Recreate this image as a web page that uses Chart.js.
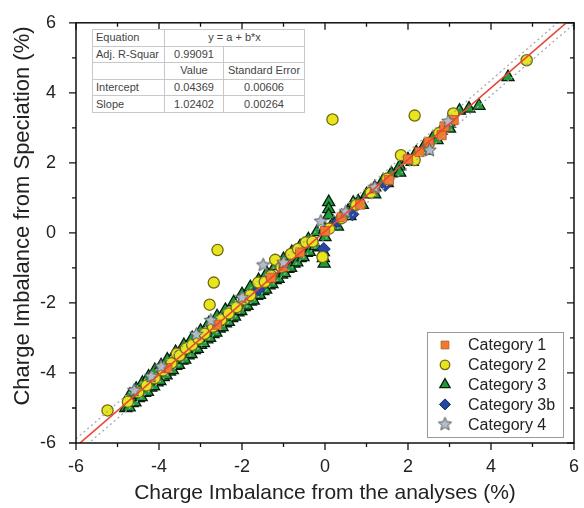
<!DOCTYPE html>
<html><head><meta charset="utf-8">
<script src="https://cdn.jsdelivr.net/npm/chart.js@4/dist/chart.umd.min.js"></script>
<style>
html,body{margin:0;padding:0;background:#fff;}
#wrap{position:relative;width:584px;height:508px;overflow:hidden;}
#c{position:absolute;left:0;top:0;}
table.fit{position:absolute;left:92px;top:29px;border-collapse:collapse;table-layout:fixed;
  font-family:"Liberation Sans",Arial,sans-serif;font-size:11px;color:#444;background:#fff;border:1px solid #999;}
table.fit td{border:1px solid #c8c8c8;height:15.6px;padding:0 0 0 3px;white-space:nowrap;overflow:hidden;line-height:15px;}
table.fit td.c{text-align:center;padding:0;}
</style></head>
<body>
<div id="wrap">
<canvas id="c" width="584" height="508"></canvas>
<table class="fit" id="fit"><colgroup><col style="width:72px"><col style="width:59px"><col style="width:81px"></colgroup><tbody></tbody></table>
</div>
<script>
// ---- axis ticks ----
const majorTicks = [-6, -4, -2, 0, 2, 4, 6];
const minorTicks = [-5, -3, -1, 1, 3, 5];
const xTitle = 'Charge Imbalance from the analyses (%)';
const yTitle = 'Charge Imbalance from Speciation (%)';

// ---- fit table ----
const tableRows = [
  ["Equation", "y = a + b*x"],
  ["Adj. R-Squar", "0.99091", ""],
  ["", "Value", "Standard Error"],
  ["Intercept", "0.04369", "0.00606"],
  ["Slope", "1.02402", "0.00264"]
];

// ---- lines ----
const fitLine   = [[-6, -6.10], [6, 6.19]];
const upperBand = [[-6, -5.88], [6, 6.41]];
const lowerBand = [[-6, -6.32], [6, 5.97]];

// ---- series [x, y] ----
const cat1 = [[-3.8,-3.86],[-2.6,-2.62],[-1.3,-1.28],[-1.0,-0.96],
  [-0.6,-0.56],[0.0,0.05],[0.4,0.45],[0.85,0.81],[1.2,1.27],[1.54,1.51],[2.0,2.1],[2.28,2.31],[2.5,2.6],
  [2.81,2.79],[2.88,3.04],[3.1,3.22]];

const cat2 = [[-5.24,-5.07],[-4.75,-4.82],[-4.5,-4.55],[-4.3,-4.36],[-4.1,-4.15],[-3.9,-3.93],[-3.7,-3.72],
  [-3.57,-3.45],[-3.5,-3.5],[-3.35,-3.3],[-3.2,-3.2],[-3.05,-3.02],[-2.9,-2.88],[-2.7,-2.68],[-2.5,-2.48],
  [-2.32,-2.3],[-2.13,-2.12],[-1.95,-1.9],[-1.8,-1.78],[-1.61,-1.42],[-1.45,-1.4],[-1.3,-1.22],[-1.2,-0.77],
  [-1.05,-0.98],[-0.82,-0.6],[-0.65,-0.46],[-0.46,-0.27],[-0.3,-0.25],[-0.06,-0.69],[0.1,0.12],[0.4,0.42],
  [0.75,0.8],[1.1,1.15],[1.5,1.55],[1.83,2.22],[2.16,2.08],[2.5,2.55],[2.75,2.85],[3.09,3.41],[4.86,4.93],
  [0.18,3.24],[2.16,3.35],[-2.59,-0.49],[-2.68,-1.42],[-2.78,-2.05]];

const cat3 = [
  [-4.8,-5.0],[-4.65,-4.86],[-4.5,-4.72],[-4.35,-4.57],[-4.2,-4.42],[-4.05,-4.27],[-3.9,-4.12],[-3.75,-3.96],
  [-3.6,-3.8],[-3.45,-3.65],[-3.3,-3.5],[-3.15,-3.35],[-3.0,-3.2],[-2.85,-3.04],[-2.7,-2.89],[-2.55,-2.73],
  [-2.4,-2.58],[-2.25,-2.43],[-2.1,-2.27],[-1.95,-2.12],[-1.8,-1.96],[-1.65,-1.8],[-1.5,-1.66],[-1.35,-1.5],
  [-1.2,-1.35],[-1.05,-1.19],[-0.9,-1.03],[-0.75,-0.88],[-0.6,-0.72],[-0.45,-0.57],[-0.3,-0.41],
  [-4.72,-4.98],[-4.58,-4.84],[-4.43,-4.69],[-4.28,-4.54],[-4.13,-4.38],[-3.98,-4.23],[-3.83,-4.07],
  [-3.68,-3.92],[-3.53,-3.77],[-3.38,-3.62],[-3.23,-3.46],[-3.08,-3.31],[-2.93,-3.15],[-2.78,-3.0],
  [-2.63,-2.85],[-2.48,-2.69],[-2.33,-2.54],[-2.18,-2.39],[-2.03,-2.23],[-1.88,-2.08],[-1.73,-1.93],
  [-1.58,-1.77],[-1.43,-1.62],[-1.28,-1.46],[-1.13,-1.31],[-0.98,-1.15],[-0.83,-1.0],[-0.68,-0.84],
  [-0.53,-0.69],[-0.38,-0.54],[-0.23,-0.38],
  [-4.7,-4.62],[-4.55,-4.45],[-4.4,-4.28],[-4.25,-4.1],[-4.1,-3.92],[-3.95,-3.78],[-3.8,-3.62],[-3.6,-3.4],
  [-3.4,-3.2],[-3.2,-3.0],[-3.0,-2.8],[-2.8,-2.58],[-2.6,-2.38],[-2.4,-2.2],[-2.2,-1.98],[-2.0,-1.75],
  [-1.8,-1.55],[-1.6,-1.35],[-1.4,-1.15],[-1.2,-0.95],[-1.0,-0.75],[-0.8,-0.55],[-0.6,-0.38],[-0.4,-0.18],
  [-0.2,0.02],[0.0,0.1],[0.2,0.3],[0.4,0.48],[0.55,0.62],[0.68,0.86],[0.8,0.9],[1.0,1.1],[1.2,1.3],[1.4,1.5],
  [1.6,1.7],[1.8,1.9],[2.0,2.1],[2.2,2.3],[2.4,2.5],[2.6,2.72],[2.8,2.92],[3.0,3.12],[3.24,3.49],[3.47,3.55],
  [3.71,3.63],[4.41,4.45],
  [0.0,-0.12],[0.3,0.18],[0.6,0.48],[0.9,0.8],[1.2,1.1],[1.5,1.42],[1.8,1.72],[2.1,2.03],[2.4,2.35],
  [2.7,2.65],[3.0,2.98],
  [0.09,0.88],[0.09,0.68],[0.09,0.5],[-0.04,-0.55],[-0.04,-0.72],[-0.02,-0.88]];

const cat3b = [[-1.6,-1.62],[-0.03,-0.46],[0.3,0.32],[0.66,0.53],[1.45,1.37]];

const cat4 = [[-4.6,-4.5],[-4.19,-4.1],[-3.95,-3.82],[-3.1,-2.9],[-2.75,-2.5],[-2.0,-1.85],[-1.49,-0.92],
  [-1.0,-0.85],[-0.1,0.33],[0.5,0.6],[1.2,1.3],[2.52,2.36],[2.97,3.18]];

// ---- build table ----
const tb = document.querySelector('#fit tbody');
tableRows.forEach(r => {
  const tr = document.createElement('tr');
  r.forEach((v, i) => {
    const td = document.createElement('td');
    td.textContent = v;
    if (i > 0) td.className = 'c';
    if (r.length === 2 && i === 1) td.colSpan = 2;
    tr.appendChild(td);
  });
  tb.appendChild(tr);
});

// ---- star marker ----
function makeStar(R, r, fill, stroke) {
  const s = Math.ceil(R * 2 + 3);
  const cv = document.createElement('canvas');
  cv.width = s; cv.height = s;
  const g = cv.getContext('2d');
  const c = s / 2;
  g.beginPath();
  for (let i = 0; i < 10; i++) {
    const a = -Math.PI / 2 + i * Math.PI / 5;
    const rr = i % 2 === 0 ? R : r;
    const px = c + rr * Math.cos(a), py = c + rr * Math.sin(a);
    i === 0 ? g.moveTo(px, py) : g.lineTo(px, py);
  }
  g.closePath();
  g.fillStyle = fill; g.fill();
  g.lineWidth = 1; g.strokeStyle = stroke; g.stroke();
  return cv;
}
const starImg = makeStar(7, 3.2, '#b4bcc6', '#505860');

const pts = a => a.map(([x, y]) => ({x, y}));

const series = [
  {label: 'Category 1', data: cat1, pointStyle: 'rect', radius: 6.5, bg: '#f07a30', bc: '#b8561c', bw: 0.8, order: 4},
  {label: 'Category 2', data: cat2, pointStyle: 'circle', radius: 5.6, bg: '#e8e41e', bc: '#6e6a14', bw: 1.3, order: 6},
  {label: 'Category 3', data: cat3, pointStyle: 'triangle', radius: 7, bg: '#1f9d3d', bc: '#06200b', bw: 1.3, order: 7},
  {label: 'Category 3b', data: cat3b, pointStyle: 'rectRot', radius: 6.5, bg: '#2546a2', bc: '#132a60', bw: 1, order: 6.5},
  {label: 'Category 4', data: cat4, pointStyle: starImg, radius: 7, bg: '#b4bcc6', bc: '#505860', bw: 1, order: 2}
];

const datasets = series.map(s => ({
  label: s.label, data: pts(s.data), pointStyle: s.pointStyle, pointRadius: s.radius,
  pointBackgroundColor: s.bg, pointBorderColor: s.bc, pointBorderWidth: s.bw, order: s.order
}));
datasets.push({label: 'fit', type: 'line', data: pts(fitLine), borderColor: '#e8473b', borderWidth: 1.6, pointRadius: 0, order: 0});
datasets.push({label: 'upper', type: 'line', data: pts(upperBand), borderColor: '#a8a8a8', borderDash: [2, 3], borderWidth: 1.3, pointRadius: 0, order: 1});
datasets.push({label: 'lower', type: 'line', data: pts(lowerBand), borderColor: '#a8a8a8', borderDash: [2, 3], borderWidth: 1.3, pointRadius: 0, order: 1});

const FONT = '"Liberation Sans", Arial, sans-serif';

const frame = {
  id: 'frame',
  afterDraw(chart) {
    const {ctx, chartArea: a, scales: {x, y}} = chart;
    ctx.save();
    ctx.strokeStyle = '#111';
    ctx.lineWidth = 1.5;
    ctx.strokeRect(a.left, a.top, a.right - a.left, a.bottom - a.top);
    ctx.lineWidth = 1.3;
    ctx.beginPath();
    const tick = (v, len) => {
      const px = x.getPixelForValue(v), py = y.getPixelForValue(v);
      ctx.moveTo(px, a.bottom); ctx.lineTo(px, a.bottom + len);
      ctx.moveTo(px, a.top); ctx.lineTo(px, a.top + len);
      ctx.moveTo(a.left, py); ctx.lineTo(a.left - len, py);
      ctx.moveTo(a.right, py); ctx.lineTo(a.right - len, py);
    };
    majorTicks.forEach(v => tick(v, 7));
    minorTicks.forEach(v => tick(v, 4));
    ctx.stroke();

    // y axis title
    ctx.save();
    ctx.translate(23, 216);
    ctx.rotate(-Math.PI / 2);
    ctx.font = '22px ' + FONT;
    ctx.fillStyle = '#222';
    ctx.textAlign = 'center';
    ctx.textBaseline = 'middle';
    ctx.fillText(yTitle, 0, 0);
    ctx.restore();

    // legend
    const bx = a.right - 147, by = a.bottom - 111, bw = 136, bh = 105;
    ctx.fillStyle = '#fff';
    ctx.fillRect(bx, by, bw, bh);
    ctx.strokeStyle = '#9a9a9a';
    ctx.lineWidth = 1;
    ctx.strokeRect(bx + 0.5, by + 0.5, bw, bh);
    ctx.font = '16px ' + FONT;
    ctx.textBaseline = 'middle';
    ctx.textAlign = 'left';
    series.forEach((s, i) => {
      const cy = by + 13 + i * 19.8;
      const cx = bx + 18;
      ctx.fillStyle = s.bg; ctx.strokeStyle = s.bc; ctx.lineWidth = s.bw;
      Chart.helpers.drawPoint(ctx, {pointStyle: s.pointStyle, radius: s.radius * 0.85, rotation: 0, borderWidth: s.bw}, cx, cy);
      ctx.fillStyle = '#222';
      ctx.fillText(s.label, bx + 41, cy + 1);
    });
    ctx.restore();
  }
};

const tickFont = {family: FONT, size: 18};
const titleFont = {family: FONT, size: 21};

new Chart(document.getElementById('c'), {
  type: 'scatter',
  data: {datasets},
  options: {
    responsive: false, animation: false, devicePixelRatio: 1,
    layout: {padding: {left: 0, top: 18, right: 5, bottom: 0}},
    plugins: {legend: {display: false}, tooltip: {enabled: false}},
    scales: {
      x: {
        type: 'linear', min: -6, max: 6,
        afterFit: s => { s.height = 65; },
        grid: {display: false}, border: {display: false},
        ticks: {stepSize: 2, font: tickFont, color: '#222', padding: 5, maxRotation: 0,
          callback: v => majorTicks.includes(v) ? String(v) : ''},
        title: {display: true, text: xTitle, font: titleFont, color: '#222', padding: {top: 0, bottom: 2}}
      },
      y: {
        type: 'linear', min: -6, max: 6,
        afterFit: s => { s.width = 76; },
        grid: {display: false}, border: {display: false},
        ticks: {stepSize: 2, font: tickFont, color: '#222', padding: 12,
          callback: v => majorTicks.includes(v) ? String(v) : ''},
        title: {display: false}
      }
    }
  },
  plugins: [frame]
});
</script>
</body></html>
